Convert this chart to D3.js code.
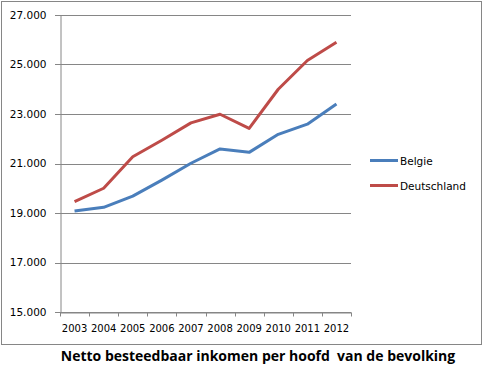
<!DOCTYPE html>
<html><head><meta charset="utf-8">
<script src="https://cdn.jsdelivr.net/npm/d3@7"></script>
<style>body{margin:0;background:#fff}svg{display:block}</style>
</head><body>
<svg id="c" width="483" height="366"></svg>
<script>
const years = ["2003","2004","2005","2006","2007","2008","2009","2010","2011","2012"];
const belgie = [19080, 19230, 19680, 20330, 21010, 21590, 21450, 22180, 22590, 23400];
const deutschland = [19460, 20000, 21270, 21940, 22640, 22990, 22420, 24000, 25160, 25900];
const yTicks = [15000, 17000, 19000, 21000, 23000, 25000, 27000];
const seriesNames = ["Belgie", "Deutschland"];
const colors = ["#4a7ebb", "#be4b48"];
const title = "Netto besteedbaar inkomen per hoofd\u00a0 van de bevolking";

const svg = d3.select("#c");
const grid = "#868686";
const font = "DejaVu Sans";

// chart frame
svg.append("rect").attr("x",1.5).attr("y",1.5).attr("width",480).attr("height",343)
  .attr("fill","#fff").attr("stroke",grid).attr("stroke-width",1);

const x = d3.scaleBand().domain(years).range([60, 351]);
const y = d3.scaleLinear().domain([15000, 27000]).range([312, 15]);

// gridlines
svg.append("g").selectAll("line").data(yTicks).join("line")
  .attr("x1",55).attr("x2",351)
  .attr("y1",d=>Math.round(y(d))+0.5).attr("y2",d=>Math.round(y(d))+0.5)
  .attr("stroke",grid).attr("stroke-width",1);

// y axis
const ya = svg.append("g").attr("transform","translate(60.5,0)")
  .call(d3.axisLeft(y).tickValues(yTicks).tickSize(0).tickPadding(14)
    .tickFormat(d=>d3.format(",")(d).replace(/,/g,".")));
ya.select(".domain").attr("stroke",grid);
ya.selectAll("text").attr("font-family",font).attr("font-size","10.5px").attr("fill","#000");

// x axis
const xa = svg.append("g").attr("transform","translate(0,312.5)")
  .call(d3.axisBottom(x).tickSize(0).tickPadding(12));
xa.select(".domain").attr("stroke",grid);
xa.selectAll("text").attr("font-family",font).attr("font-size","10px").attr("fill","#000");
const bounds = years.map(d=>x(d)).concat([x.range()[1]]);
xa.selectAll(".bt").data(bounds).join("line").attr("class","bt")
  .attr("x1",d=>Math.round(d)+0.5).attr("x2",d=>Math.round(d)+0.5)
  .attr("y1",0).attr("y2",4).attr("stroke",grid);

// lines
const line = d3.line().x((d,i)=>x(years[i])+x.bandwidth()/2).y(d=>y(d));
[belgie, deutschland].forEach((s,i)=>{
  svg.append("path").datum(s).attr("d",line).attr("fill","none")
    .attr("stroke",colors[i]).attr("stroke-width",3).attr("stroke-linejoin","round");
});

// legend
const lg = svg.append("g");
seriesNames.forEach((n,i)=>{
  const yy = 160.5 + i*25;
  lg.append("line").attr("x1",370).attr("x2",398).attr("y1",yy).attr("y2",yy)
    .attr("stroke",colors[i]).attr("stroke-width",3);
  lg.append("text").attr("x",400).attr("y",yy+4).text(n)
    .attr("font-family",font).attr("font-size","10.5px").attr("fill","#000");
});

// title
svg.append("text").attr("x",258).attr("y",361).attr("text-anchor","middle")
  .attr("font-family","Open Sans").attr("font-weight","bold").attr("font-size","14px")
  .attr("fill","#000").text(title);
</script>
</body></html>
